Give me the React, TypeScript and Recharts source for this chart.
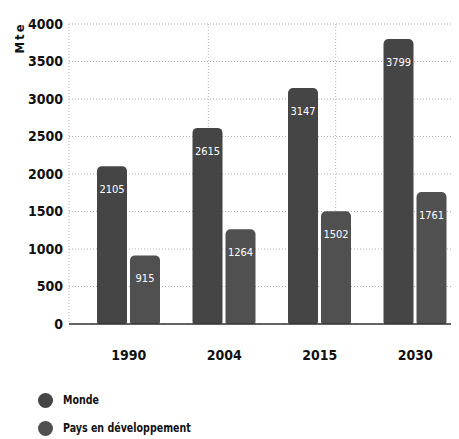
import React from 'react';
import { BarChart, Bar, XAxis, YAxis, CartesianGrid, Legend, LabelList } from 'recharts';

const years = ['1990', '2004', '2015', '2030'];
const monde = [2105, 2615, 3147, 3799];
const paysEnDeveloppement = [915, 1264, 1502, 1761];
const seriesNames = ['Monde', 'Pays en développement'];
const yTicks = [0, 500, 1000, 1500, 2000, 2500, 3000, 3500, 4000];
const separatorTicks = [1, 2, 3];
const unitLabel = 'Mte';

const data = years.map((y, i) => ({ year: y, monde: monde[i], pays: paysEnDeveloppement[i] }));

const FONT = '"DejaVu Sans Condensed", "DejaVu Sans", sans-serif';
const COLORS = { monde: '#454545', pays: '#505050' };

const renderLegend = (props: any) => (
  <div style={{ height: 53, paddingLeft: 30, fontFamily: FONT, fontWeight: 700, fontSize: 12, color: '#111' }}>
    {(props.payload || []).map((p: any) => (
      <div key={p.value} style={{ display: 'flex', alignItems: 'center', height: 28 }}>
        <span
          style={{
            width: 15,
            height: 15,
            borderRadius: '50%',
            background: p.color,
            marginRight: 10,
            display: 'inline-block',
          }}
        />
        <span style={{ display: 'inline-block', transform: 'scaleX(0.88)', transformOrigin: 'left center' }}>
          {p.value}
        </span>
      </div>
    ))}
  </div>
);

const MteLabel = (props: any) => {
  const vb = props.viewBox || { x: 0, y: 0 };
  const cx = vb.x + 11;
  const cy = vb.y + 14;
  return (
    <text
      x={cx}
      y={cy}
      transform={`rotate(-90, ${cx}, ${cy})`}
      textAnchor="middle"
      dominantBaseline="central"
      fontFamily={FONT}
      fontWeight={700}
      fontSize={13}
      letterSpacing={2}
      fill="#111"
    >
      {unitLabel}
    </text>
  );
};

const tickStyle = { fontFamily: FONT, fontWeight: 700, fontSize: 14, fill: '#111' };

export default function App() {
  return (
    <div style={{ width: 451, height: 431, overflow: 'hidden' }}>
      <BarChart
        width={455}
        height={431}
        data={data}
        margin={{ top: 16, right: 0, left: 0, bottom: 0 }}
        barGap={3}
        barSize={30}
      >
        <CartesianGrid xAxisId="g" stroke="#b5b5b5" strokeDasharray="1 2" />
        <XAxis
          xAxisId="g"
          type="number"
          domain={[0, 4]}
          ticks={separatorTicks}
          padding={{ left: 12, right: 0 }}
          height={0}
          axisLine={false}
          tickLine={{ stroke: '#666' }}
          tickSize={6}
          tick={() => <g />}
        />
        <XAxis
          xAxisId="c"
          dataKey="year"
          padding={{ left: 12, right: 0 }}
          height={62}
          tickLine={false}
          tickSize={0}
          tickMargin={26}
          axisLine={{ stroke: '#333', strokeWidth: 1.5 }}
          tick={tickStyle}
        />
        <YAxis
          width={61}
          domain={[0, 4000]}
          ticks={yTicks}
          axisLine={false}
          tickLine={false}
          tickSize={0}
          tickMargin={6}
          tick={tickStyle}
          label={<MteLabel />}
        />
        <Legend verticalAlign="bottom" align="left" content={renderLegend} />
        <Bar
          xAxisId="c"
          dataKey="monde"
          name={seriesNames[0]}
          fill={COLORS.monde}
          radius={[5, 5, 2, 2]}
          isAnimationActive={false}
        >
          <LabelList dataKey="monde" position="insideTop" offset={19} fill="#fff" fontFamily={FONT} fontSize={11} />
        </Bar>
        <Bar
          xAxisId="c"
          dataKey="pays"
          name={seriesNames[1]}
          fill={COLORS.pays}
          radius={[5, 5, 2, 2]}
          isAnimationActive={false}
        >
          <LabelList dataKey="pays" position="insideTop" offset={19} fill="#fff" fontFamily={FONT} fontSize={11} />
        </Bar>
      </BarChart>
    </div>
  );
}
